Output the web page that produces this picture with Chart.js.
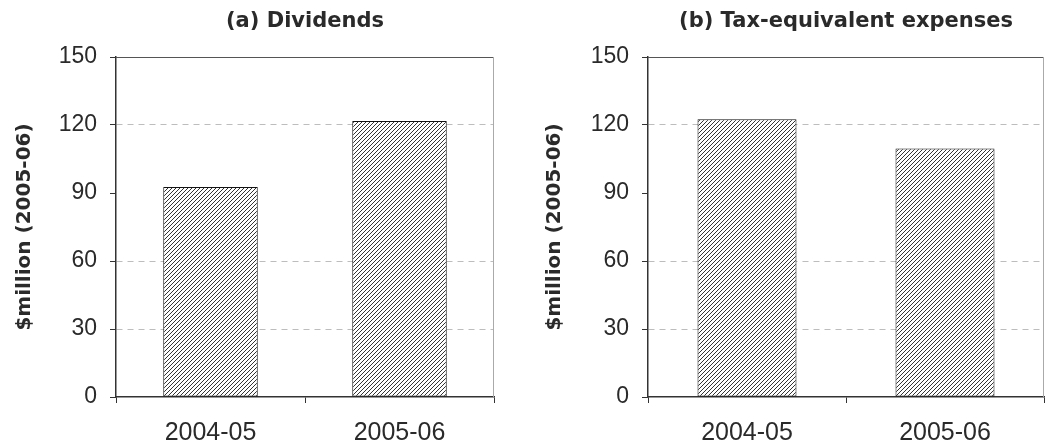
<!DOCTYPE html>
<html>
<head>
<meta charset="utf-8">
<script src="https://cdn.jsdelivr.net/npm/chart.js@4/dist/chart.umd.min.js"></script>
<style>
  body { margin: 0; background: #fff; }
  .panel { position: absolute; top: 0; }
</style>
</head>
<body>
<div class="panel" style="left:0px"><canvas id="chartA" width="520" height="445"></canvas></div>
<div class="panel" style="left:520px"><canvas id="chartB" width="525" height="445"></canvas></div>
<script>
// Dados
const categories = ['2004-05', '2005-06'];
const dividends = [92.6, 121.8];
const taxEquivalent = [122.5, 109.6];
const yTicks = [0, 30, 60, 90, 120, 150];
const hiddenGridValues = [0, 90, 150];

// Padrão hachurado das barras
function makeHatch() {
    const c = document.createElement('canvas');
    c.width = 4;
    c.height = 4;
    const g = c.getContext('2d');
    g.fillStyle = '#fff';
    g.fillRect(0, 0, 4, 4);
    g.strokeStyle = '#333';
    g.lineWidth = 1.0;
    g.beginPath();
    g.moveTo(0, 4); g.lineTo(4, 0);
    g.moveTo(-1, 1); g.lineTo(1, -1);
    g.moveTo(3, 5); g.lineTo(5, 3);
    g.stroke();
    return g.createPattern(c, 'repeat');
}

// Moldura superior e direita da área do gráfico
const framePlugin = {
    id: 'frame',
    beforeDatasetsDraw(chart) {
        const { ctx, chartArea: a } = chart;
        ctx.save();
        ctx.lineWidth = 1;
        ctx.strokeStyle = '#555';
        ctx.beginPath();
        ctx.moveTo(a.left, a.top + 0.5);
        ctx.lineTo(a.right, a.top + 0.5);
        ctx.stroke();
        ctx.strokeStyle = '#aaa';
        ctx.beginPath();
        ctx.moveTo(a.right - 0.5, a.top);
        ctx.lineTo(a.right - 0.5, a.bottom);
        ctx.stroke();
        ctx.restore();
    }
};

function makeChart(id, titleText, values, yWidth, padRight, yTitlePad) {
    const ctx = document.getElementById(id).getContext('2d');
    return new Chart(ctx, {
        type: 'bar',
        data: {
            labels: categories,
            datasets: [{
                data: values,
                backgroundColor: makeHatch(),
                borderColor: '#111',
                borderWidth: 1,
                borderSkipped: false,
                categoryPercentage: 1,
                barPercentage: 0.5
            }]
        },
        options: {
            responsive: false,
            animation: false,
            devicePixelRatio: 1,
            layout: { padding: { left: 0, right: padRight, top: 0, bottom: 0 } },
            plugins: {
                legend: { display: false },
                tooltip: { enabled: false },
                title: {
                    display: true,
                    text: titleText,
                    fullSize: false,
                    color: '#2a2a2a',
                    font: { family: 'DejaVu Sans', size: 21, weight: 'bold', lineHeight: 1.2 },
                    padding: { top: 9, bottom: 22.8 }
                }
            },
            scales: {
                x: {
                    offset: true,
                    grid: {
                        offset: true,
                        drawOnChartArea: false,
                        drawTicks: true,
                        tickLength: 6,
                        tickColor: '#333'
                    },
                    border: { color: '#333', width: 1.5 },
                    ticks: {
                        color: '#2a2a2a',
                        padding: 15,
                        font: { family: 'Liberation Sans', size: 25 }
                    },
                    afterFit(scale) { scale.height = 48; }
                },
                y: {
                    min: 0,
                    max: 150,
                    afterBuildTicks(scale) {
                        scale.ticks = yTicks.map(v => ({ value: v }));
                    },
                    grid: {
                        color: c => hiddenGridValues.includes(c.tick && c.tick.value) ? 'rgba(0,0,0,0)' : '#bdbdbd',
                        tickColor: '#333',
                        drawTicks: true,
                        tickLength: 6
                    },
                    border: { color: '#333', width: 1.5, dash: [6, 5] },
                    ticks: {
                        color: '#2a2a2a',
                        padding: 13,
                        font: { family: 'Liberation Sans', size: 23 }
                    },
                    title: {
                        display: true,
                        text: '$million (2005-06)',
                        color: '#2a2a2a',
                        font: { family: 'DejaVu Sans', size: 20, weight: 'bold', lineHeight: 1.2 },
                        padding: { top: yTitlePad, bottom: 0 }
                    },
                    afterFit(scale) { scale.width = yWidth; }
                }
            }
        },
        plugins: [framePlugin]
    });
}

makeChart('chartA', '(a) Dividends', dividends, 116, 26, 13);
makeChart('chartB', '(b) Tax-equivalent expenses', taxEquivalent, 128, 1, 23);
</script>
</body>
</html>
